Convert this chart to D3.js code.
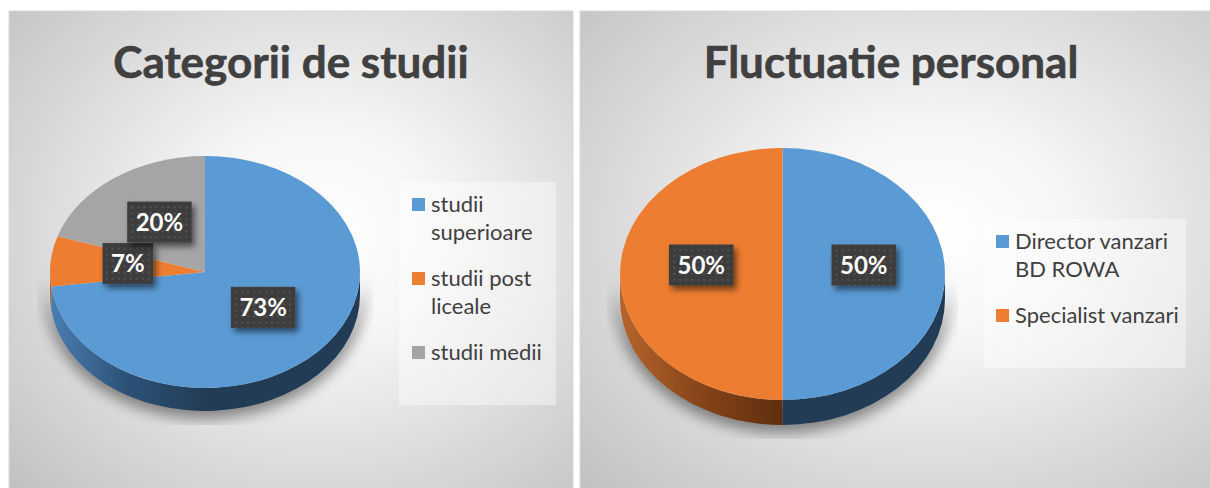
<!DOCTYPE html>
<html>
<head>
<meta charset="utf-8">
<script src="https://cdn.jsdelivr.net/npm/d3@7"></script>
<style>
  body { margin: 0; background: #fff; }
  svg { display: block; }
</style>
</head>
<body>
<div id="chart"></div>
<script>
'use strict';

// Data for the two pie charts
const studiiTitle = "Categorii de studii";
const studiiCategories = ["studii superioare", "studii post liceale", "studii medii"];
const studiiValues = [73, 7, 20];
const studiiColors = ["#5b9bd5", "#ed7d31", "#a5a5a5"];

const fluctTitle = "Fluctuatie personal";
const fluctCategories = ["Director vanzari BD ROWA", "Specialist vanzari"];
const fluctValues = [50, 50];
const fluctColors = ["#5b9bd5", "#ed7d31"];

// Dark shades used for the side of the 3d pie (light edge -> dark middle)
const sideShades = {
  "#5b9bd5": ["#4a7eb1", "#2c5176", "#223c56"],
  "#ed7d31": ["#b6652a", "#86441a", "#5f2e0d"],
  "#a5a5a5": ["#8a8a8a", "#6a6a6a", "#555555"]
};

const width = 1210;
const height = 488;
const font = "Lato, 'Open Sans', sans-serif";

const svg = d3.select("#chart").append("svg")
    .attr("width", width)
    .attr("height", height);

const defs = svg.append("defs");

// Soft background of each chart panel
const bg = defs.append("radialGradient")
    .attr("id", "panelBg")
    .attr("cx", "0.55").attr("cy", "0.45").attr("r", "0.75");
bg.append("stop").attr("offset", "0").attr("stop-color", "#ffffff");
bg.append("stop").attr("offset", "0.3").attr("stop-color", "#f5f5f5");
bg.append("stop").attr("offset", "1").attr("stop-color", "#c2c2c2");

// Dotted fill of the data label boxes
const dots = defs.append("pattern")
    .attr("id", "dots")
    .attr("width", 6).attr("height", 6)
    .attr("patternUnits", "userSpaceOnUse");
dots.append("rect").attr("width", 6).attr("height", 6).attr("fill", "#3e3e3e");
dots.append("circle").attr("cx", 3).attr("cy", 3).attr("r", 0.9).attr("fill", "#5a5a5a");

const boxShadow = defs.append("filter").attr("id", "boxShadow")
    .attr("x", "-30%").attr("y", "-30%").attr("width", "170%").attr("height", "170%");
boxShadow.append("feDropShadow")
    .attr("dx", 3).attr("dy", 4).attr("stdDeviation", 3)
    .attr("flood-color", "#000").attr("flood-opacity", 0.55);

const pieShadow = defs.append("filter").attr("id", "pieShadow")
    .attr("x", "-20%").attr("y", "-20%").attr("width", "140%").attr("height", "140%");
pieShadow.append("feGaussianBlur").attr("stdDeviation", 7);

// Wrap a label into lines no wider than maxW
function wrapLines(textSel, label, maxW) {
  let words = label.split(" ");
  let lines = [];
  let line = "";
  words.forEach(function(w) {
    let test = line ? line + " " + w : w;
    textSel.text(test);
    if (line && textSel.node().getComputedTextLength() > maxW) {
      lines.push(line);
      line = w;
    } else {
      line = test;
    }
  });
  lines.push(line);
  textSel.text(null);
  return lines;
}

function drawChart(cfg) {

  const g = svg.append("g").attr("id", cfg.id);

  // panel
  g.append("rect")
      .attr("x", cfg.panel[0]).attr("y", cfg.panel[1])
      .attr("width", cfg.panel[2]).attr("height", cfg.panel[3])
      .attr("fill", "url(#panelBg)")
      .attr("stroke", "#d9d9d9").attr("stroke-width", 1);

  // title
  g.append("text")
      .attr("x", cfg.titleX).attr("y", cfg.titleY)
      .attr("text-anchor", "middle")
      .style("font-family", font)
      .style("font-weight", "bold")
      .style("font-size", "44px")
      .attr("fill", "#404040")
      .attr("stroke", "#404040").attr("stroke-width", 0.6)
      .text(cfg.title);

  const cx = cfg.cx, cy = cfg.cy, rx = cfg.rx, ry = cfg.ry, depth = cfg.depth;
  const k = ry / rx;

  const pie = d3.pie().sort(null).value(d => d.value);
  const slices = pie(cfg.categories.map((c, i) => ({name: c, value: cfg.values[i], color: cfg.colors[i]})));

  const arc = d3.arc().innerRadius(0).outerRadius(rx);
  const pt = a => [cx + rx * Math.sin(a), cy - ry * Math.cos(a)];

  // soft shadow under the pie
  const clipId = cfg.id + "Clip";
  defs.append("clipPath").attr("id", clipId)
    .append("rect")
      .attr("x", cx - rx - 13).attr("y", cy)
      .attr("width", 2 * rx + 26).attr("height", ry + depth + 14);
  g.append("g").attr("clip-path", `url(#${clipId})`)
    .append("path")
      .attr("d", `M${cx - rx - 5},${cy} A${rx + 5},${ry + 5} 0 0 0 ${cx + rx + 5},${cy}
                  L${cx + rx + 5},${cy + depth} A${rx + 5},${ry + 8} 0 0 1 ${cx - rx - 5},${cy + depth} Z`)
      .attr("fill", "#000")
      .attr("opacity", 0.42)
      .attr("filter", "url(#pieShadow)");

  // side of the pie (front half only)
  slices.forEach(function(d, i) {
    let a0 = Math.max(d.startAngle, Math.PI / 2);
    let a1 = Math.min(d.endAngle, 3 * Math.PI / 2);
    if (a1 <= a0) return;
    const gradId = cfg.id + "Side" + i;
    const shades = sideShades[d.data.color];
    const lg = defs.append("linearGradient")
        .attr("id", gradId)
        .attr("gradientUnits", "userSpaceOnUse")
        .attr("x1", cx - rx).attr("x2", cx).attr("y1", 0).attr("y2", 0);
    lg.append("stop").attr("offset", "0").attr("stop-color", shades[0]);
    lg.append("stop").attr("offset", "0.5").attr("stop-color", shades[1]);
    lg.append("stop").attr("offset", "1").attr("stop-color", shades[2]);
    const p0 = pt(a0), p1 = pt(a1);
    g.append("path")
        .attr("d", `M${p0[0]},${p0[1]} A${rx},${ry} 0 0 1 ${p1[0]},${p1[1]}
                    L${p1[0]},${p1[1] + depth} A${rx},${ry} 0 0 0 ${p0[0]},${p0[1] + depth} Z`)
        .attr("fill", `url(#${gradId})`);
  });

  // top face
  g.append("g")
      .attr("transform", `translate(${cx},${cy}) scale(1,${k})`)
    .selectAll("path")
    .data(slices)
    .join("path")
      .attr("d", arc)
      .attr("fill", d => d.data.color);

  // data labels
  const total = d3.sum(cfg.values);
  const labels = g.append("g").selectAll("g")
    .data(slices)
    .join("g")
      .attr("transform", function(d) {
        const c = arc.centroid(d);
        return `translate(${cx + c[0]},${cy + c[1] * k + cfg.labelDy})`;
      });

  labels.each(function(d) {
    const lab = d3.select(this);
    const rect = lab.append("rect").attr("fill", "url(#dots)").attr("filter", "url(#boxShadow)");
    const txt = lab.append("text")
        .attr("text-anchor", "middle")
        .attr("dy", "0.36em")
        .style("font-family", font)
        .style("font-weight", "bold")
        .style("font-size", "24px")
        .attr("fill", "#fff")
        .text(Math.round(d.data.value / total * 100) + "%");
    const w = txt.node().getComputedTextLength() + 17;
    rect.attr("x", -w / 2).attr("y", -20.5).attr("width", w).attr("height", 41);
  });

  // legend
  g.append("rect")
      .attr("x", cfg.legend[0]).attr("y", cfg.legend[1])
      .attr("width", cfg.legend[2]).attr("height", cfg.legend[3])
      .attr("fill", "#ffffff").attr("opacity", 0.4);

  let yTop = cfg.legendTop;
  slices.forEach(function(d) {
    g.append("rect")
        .attr("x", cfg.legendX).attr("y", yTop)
        .attr("width", 13).attr("height", 13)
        .attr("fill", d.data.color);
    const t = g.append("text")
        .attr("x", cfg.legendX + 19).attr("y", yTop + 14)
        .style("font-family", font)
        .style("font-size", "22px")
        .attr("fill", "#404040");
    const lines = wrapLines(t, d.data.name, cfg.legendWrap);
    t.selectAll("tspan")
      .data(lines)
      .join("tspan")
        .attr("x", cfg.legendX + 19)
        .attr("dy", (l, i) => i ? 28 : 0)
        .text(l => l);
    yTop += lines.length * 28 + 18;
  });
}

drawChart({
  id: "studii",
  title: studiiTitle, categories: studiiCategories, values: studiiValues, colors: studiiColors,
  panel: [9, 11, 564, 490], titleX: 291, titleY: 78,
  cx: 205, cy: 272, rx: 155, ry: 116, depth: 23, labelDy: -3,
  legend: [399, 182, 157, 223], legendX: 412, legendTop: 198, legendWrap: 126
});

drawChart({
  id: "fluct",
  title: fluctTitle, categories: fluctCategories, values: fluctValues, colors: fluctColors,
  panel: [580, 11, 640, 490], titleX: 891, titleY: 78,
  cx: 782.5, cy: 274, rx: 162.5, ry: 126, depth: 25, labelDy: -9,
  legend: [984, 219, 202, 149], legendX: 996, legendTop: 235, legendWrap: 176
});
</script>
</body>
</html>
